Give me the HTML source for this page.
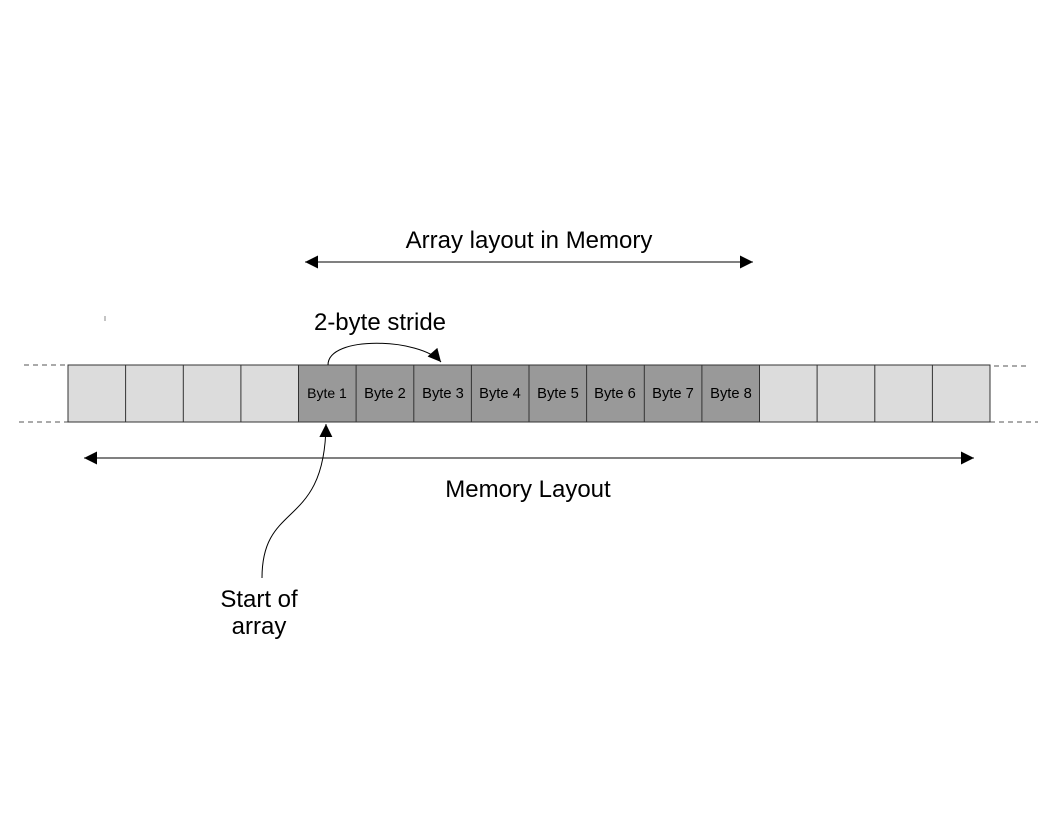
<!DOCTYPE html>
<html><head><style>body{margin:0;background:#fff}svg{display:block}text{font-family:"Liberation Sans",sans-serif;fill:#000}</style></head>
<body>
<svg width="1056" height="816" viewBox="0 0 1056 816" xmlns="http://www.w3.org/2000/svg">
<defs>
<marker id="a" viewBox="0 0 10 10" refX="10" refY="5" markerWidth="18" markerHeight="13" markerUnits="userSpaceOnUse" orient="auto-start-reverse"><path d="M0,0L10,5L0,10z" fill="#000"/></marker>
</defs>
<g stroke="#555" stroke-dasharray="5,4" stroke-width="1">
<line x1="24" y1="365" x2="68" y2="365"/><line x1="19" y1="422" x2="68" y2="422"/>
<line x1="985" y1="366" x2="1030" y2="366"/><line x1="990" y1="422" x2="1038" y2="422"/>
</g>
<g stroke="#333" stroke-width="1">
<rect x="68" y="365" width="230.5" height="57" fill="#dcdcdc"/>
<rect x="298.5" y="365" width="461" height="57" fill="#999"/>
<rect x="759.5" y="365" width="230.5" height="57" fill="#dcdcdc"/>
<path d="M125.6,365v57M183.3,365v57M240.9,365v57M356.1,365v57M413.8,365v57M471.4,365v57M529,365v57M586.6,365v57M644.3,365v57M701.9,365v57M817.1,365v57M874.8,365v57M932.4,365v57"/>
</g>
<g font-size="14.7" text-anchor="middle">
<text x="327" y="398" font-size="14">Byte 1</text>
<text x="385" y="398">Byte 2</text>
<text x="443" y="398">Byte 3</text>
<text x="500" y="398">Byte 4</text>
<text x="558" y="398">Byte 5</text>
<text x="615" y="398">Byte 6</text>
<text x="673" y="398">Byte 7</text>
<text x="731" y="398">Byte 8</text>
</g>
<line x1="305" y1="262" x2="753" y2="262" stroke="#000" marker-start="url(#a)" marker-end="url(#a)"/>
<line x1="84" y1="458" x2="974" y2="458" stroke="#000" marker-start="url(#a)" marker-end="url(#a)"/>
<path d="M328,365C328,335 420,338 441,362" fill="none" stroke="#000" marker-end="url(#a)"/>
<path d="M262,578C262,500 325,530 326,424" fill="none" stroke="#000" marker-end="url(#a)"/>
<line x1="105" y1="316" x2="105" y2="321" stroke="#888"/>
<g font-size="24" text-anchor="middle">
<text x="529" y="248">Array layout in Memory</text>
<text x="380" y="330">2-byte stride</text>
<text x="528" y="497">Memory Layout</text>
<text x="259" y="607">Start of</text>
<text x="259" y="634">array</text>
</g>
</svg>
</body></html>
